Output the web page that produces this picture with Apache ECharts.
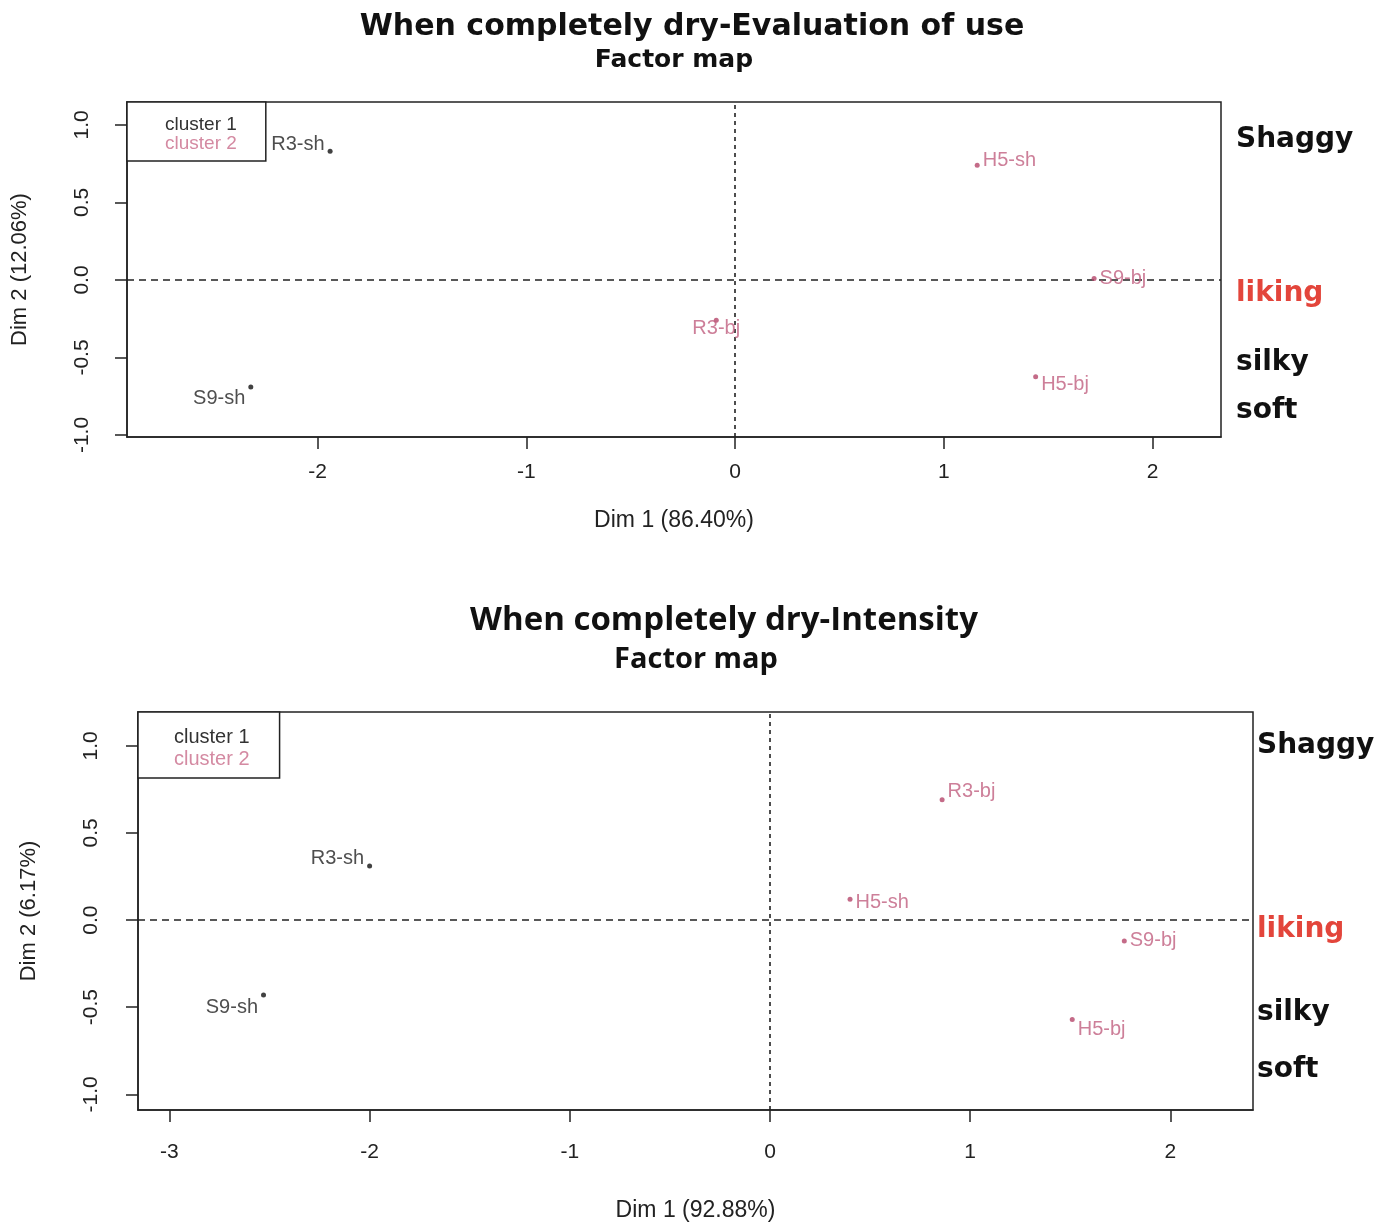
<!DOCTYPE html>
<html><head><meta charset="utf-8">
<script src="https://cdn.jsdelivr.net/npm/echarts@6/dist/echarts.min.js"></script>
<style>html,body{margin:0;padding:0;background:#fff}#c{width:1389px;height:1223px}</style>
</head><body><div id="c"></div>
<script>
// ---- Data: top chart "When completely dry-Evaluation of use"
const evalNamesC1 = ['R3-sh', 'S9-sh'];
const evalDim1C1 = [-1.94, -2.32];
const evalDim2C1 = [0.83, -0.69];
const evalNamesC2 = ['H5-sh', 'S9-bj', 'R3-bj', 'H5-bj'];
const evalDim1C2 = [1.16, 1.72, -0.09, 1.44];
const evalDim2C2 = [0.74, 0.01, -0.26, -0.625];

// ---- Data: bottom chart "When completely dry-Intensity"
const intNamesC1 = ['R3-sh', 'S9-sh'];
const intDim1C1 = [-2.0, -2.53];
const intDim2C1 = [0.31, -0.43];
const intNamesC2 = ['R3-bj', 'H5-sh', 'S9-bj', 'H5-bj'];
const intDim1C2 = [0.86, 0.40, 1.77, 1.51];
const intDim2C2 = [0.69, 0.12, -0.12, -0.57];

// ---- Tick labels and side annotations
const xTicksTop = [-2, -1, 0, 1, 2];
const xTicksBottom = [-3, -2, -1, 0, 1, 2];
const yTicks = [-1, -0.5, 0, 0.5, 1];
const sideLabels = ['Shaggy', 'liking', 'silky', 'soft'];
const legendNames = ['cluster 1', 'cluster 2'];

// ---- Label placement (style only)
const evalLabC1 = [['left', [0, -7]], ['left', [0, 12]]];
const evalLabC2 = [['right', [0, -5]], ['right', [0, 0]], ['inside', [0, 8]], ['right', [0, 8]]];
const intLabC1 = [['left', [0, -8]], ['left', [0, 12]]];
const intLabC2 = [['right', [0, -8]], ['right', [0, 3]], ['right', [0, 0]], ['right', [0, 10]]];

const C1 = '#111111', C2 = '#b5466a', C2TXT = '#c05f7f', C2LEG = '#d48aa2';
const RFONT = "'Liberation Sans', Arial, sans-serif";

function pts(names, xs, ys, lab) {
  return names.map((n, i) => ({
    name: n, value: [xs[i], ys[i]],
    label: { position: lab[i][0], offset: lab[i][1] }
  }));
}

function scatter(name, idx, data, color, txt, withLines) {
  const s = {
    name: name, type: 'scatter', xAxisIndex: idx, yAxisIndex: idx,
    symbol: 'circle', symbolSize: 5, itemStyle: { color: color },
    label: { show: true, formatter: '{b}', color: txt, fontSize: 20, fontFamily: RFONT, distance: 3 },
    data: data, z: 5
  };
  if (withLines) {
    s.markLine = {
      silent: true, symbol: 'none', animation: false,
      label: { show: false },
      data: [
        { xAxis: 0, lineStyle: { type: [4, 4], color: '#222', width: 1.6 } },
        { yAxis: 0, lineStyle: { type: [7, 5], color: '#222', width: 1.6 } }
      ]
    };
  }
  return s;
}

function xAx(idx, min, max, ticks, margin, name, gap) {
  return {
    gridIndex: idx, type: 'value', min: min, max: max,
    name: name, nameLocation: 'middle', nameGap: gap,
    nameTextStyle: { fontSize: 23, fontFamily: RFONT, color: '#222' },
    axisLine: { show: true, onZero: false, lineStyle: { color: '#222', width: 1.5 } },
    axisTick: { show: true, customValues: ticks, length: 12, lineStyle: { color: '#222', width: 1.5 } },
    axisLabel: { customValues: ticks, margin: margin, fontSize: 21, fontFamily: RFONT, color: '#222', formatter: v => String(v) },
    splitLine: { show: false }
  };
}
function yAx(idx, min, max, margin, name, gap) {
  return {
    gridIndex: idx, type: 'value', min: min, max: max,
    name: name, nameLocation: 'middle', nameGap: gap,
    nameTextStyle: { fontSize: 22, fontFamily: RFONT, color: '#222' },
    axisLine: { show: true, onZero: false, lineStyle: { color: '#222', width: 1.5 } },
    axisTick: { show: true, customValues: yTicks, length: 12, lineStyle: { color: '#222', width: 1.5 } },
    axisLabel: { customValues: yTicks, rotate: 90, margin: margin, fontSize: 21, fontFamily: RFONT, color: '#222', formatter: v => v.toFixed(1) },
    splitLine: { show: false }
  };
}

function legend(left, top, pad, lh, fs) {
  return {
    left: left, top: top, orient: 'vertical', icon: 'rect', itemWidth: 0, itemHeight: 0, itemGap: 0,
    padding: pad, borderColor: '#222', borderWidth: 1.5, backgroundColor: '#fff',
    selectedMode: false, z: 10,
    textStyle: { fontSize: fs, fontFamily: RFONT, lineHeight: lh },
    data: [
      { name: legendNames[0], textStyle: { color: '#333' } },
      { name: legendNames[1], textStyle: { color: C2LEG } }
    ]
  };
}

function side(x, ys) {
  return sideLabels.map((t, i) => ({
    type: 'text', left: x, top: ys[i] - 11, silent: true,
    style: {
      text: t, fill: t === 'liking' ? '#e3453b' : '#111',
      fontSize: 28, fontWeight: 'bold', fontFamily: "'DejaVu Sans', sans-serif"
    }
  }));
}

const chart = echarts.init(document.getElementById('c'), null, { renderer: 'canvas' });
chart.setOption({
  animation: false,
  backgroundColor: '#fff',
  title: [
    { text: 'When completely dry-Evaluation of use', left: 692, textAlign: 'center', top: 12, padding: 0,
      textStyle: { fontSize: 30, fontWeight: 'bold', fontFamily: "'DejaVu Sans', sans-serif", color: '#111' } },
    { text: 'Factor map', left: 674, textAlign: 'center', top: 48, padding: 0,
      textStyle: { fontSize: 25, fontWeight: 'bold', fontFamily: "'DejaVu Sans', sans-serif", color: '#111' } },
    { text: 'When completely dry-Intensity', left: 724, textAlign: 'center', top: 604, padding: 0,
      textStyle: { fontSize: 33, fontWeight: 'bold', fontFamily: "'Open Sans', sans-serif", color: '#111' } },
    { text: 'Factor map', left: 696, textAlign: 'center', top: 645, padding: 0,
      textStyle: { fontSize: 29, fontWeight: 'bold', fontFamily: "'Open Sans', sans-serif", color: '#111' } }
  ],
  legend: [
    legend(127, 102, [13, 29, 8, 33], 18, 19),
    legend(138, 712, [14, 30, 8, 31], 22, 20)
  ],
  grid: [
    { left: 127, top: 102, width: 1094, height: 335, show: true, borderColor: '#222', borderWidth: 1.5 },
    { left: 138, top: 712, width: 1115, height: 399, show: true, borderColor: '#222', borderWidth: 1.5 }
  ],
  xAxis: [
    xAx(0, -2.913, 2.328, xTicksTop, 25, 'Dim 1 (86.40%)', 72),
    xAx(1, -3.157, 2.413, xTicksBottom, 32, 'Dim 1 (92.88%)', 89)
  ],
  yAxis: [
    yAx(0, -1.013, 1.148, 34, 'Dim 2 (12.06%)', 96),
    yAx(1, -1.09, 1.194, 36, 'Dim 2 (6.17%)', 98)
  ],
  series: [
    scatter('cluster 1', 0, pts(evalNamesC1, evalDim1C1, evalDim2C1, evalLabC1), C1, '#222', true),
    scatter('cluster 2', 0, pts(evalNamesC2, evalDim1C2, evalDim2C2, evalLabC2), C2, C2TXT, false),
    scatter('cluster 1', 1, pts(intNamesC1, intDim1C1, intDim2C1, intLabC1), C1, '#222', true),
    scatter('cluster 2', 1, pts(intNamesC2, intDim1C2, intDim2C2, intLabC2), C2, C2TXT, false)
  ],
  graphic: side(1236, [137, 291, 360, 408]).concat(side(1257, [743, 927, 1010, 1067]))
});
</script>
</body></html>
